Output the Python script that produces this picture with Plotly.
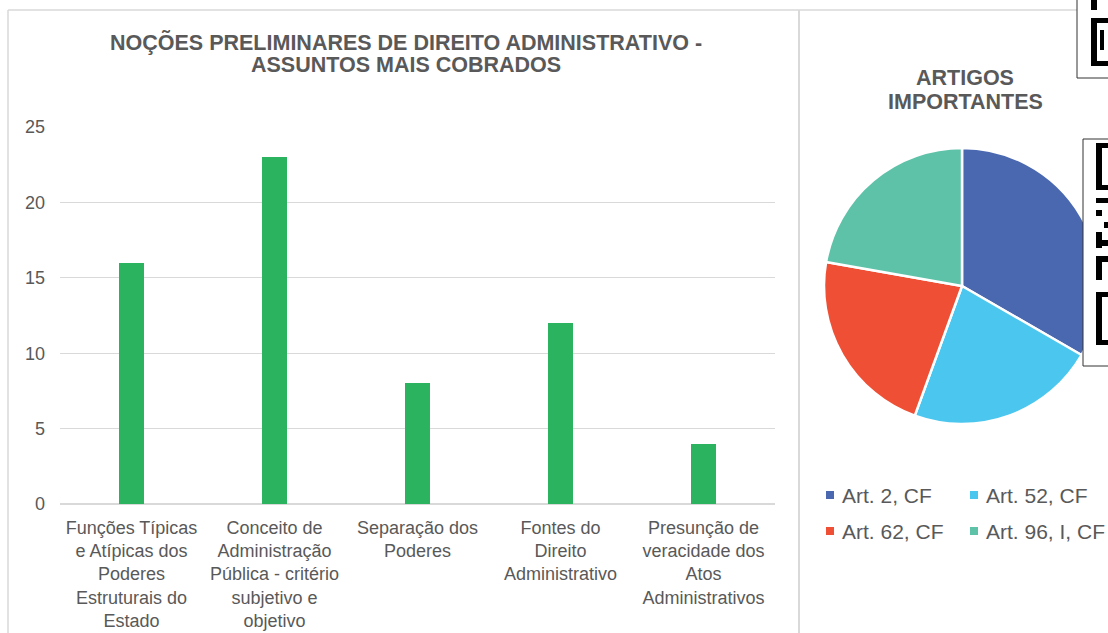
import plotly.graph_objects as go

# ---- data ----
categories = [
    "Funções Típicas<br>e Atípicas dos<br>Poderes<br>Estruturais do<br>Estado",
    "Conceito de<br>Administração<br>Pública - critério<br>subjetivo e<br>objetivo",
    "Separação dos<br>Poderes",
    "Fontes do<br>Direito<br>Administrativo",
    "Presunção de<br>veracidade dos<br>Atos<br>Administrativos",
]
bar_values = [16, 23, 8, 12, 4]
pie_labels = ["Art. 2, CF", "Art. 52, CF", "Art. 62, CF", "Art. 96, I, CF"]
pie_values = [3, 2, 2, 2]
pie_colors = ["#4A68B0", "#4BC6EE", "#EF5035", "#5EC2A9"]
y_ticks = [0, 5, 10, 15, 20, 25]
bar_title = ["NOÇÕES PRELIMINARES DE DIREITO ADMINISTRATIVO -", "ASSUNTOS MAIS COBRADOS"]
pie_title = ["ARTIGOS", "IMPORTANTES"]

W, H = 1108, 633
def px(x):
    return x / W
def py(y):
    return 1 - y / H

TXT = "#595959"
FONT = "Liberation Sans, Arial, sans-serif"

fig = go.Figure()
fig.add_trace(go.Bar(
    x=list(range(len(categories))), y=bar_values,
    marker=dict(color="#2BB35F", line=dict(width=0)),
    width=0.175, xaxis="x", yaxis="y", showlegend=False,
    hoverinfo="y",
))
fig.add_trace(go.Pie(
    labels=pie_labels, values=pie_values, sort=False, direction="clockwise",
    rotation=0, marker=dict(colors=pie_colors, line=dict(color="white", width=2.5)),
    textinfo="none", showlegend=False,
    domain=dict(x=[px(824), px(1100)], y=[py(424), py(148)]),
))

shapes = []
# panel borders
shapes.append(dict(type="line", xref="paper", yref="paper", x0=px(8), x1=px(8), y0=py(10), y1=py(640),
                   line=dict(color="#D9D9D9", width=1.5)))
shapes.append(dict(type="line", xref="paper", yref="paper", x0=px(8), x1=px(1080), y0=py(10), y1=py(10),
                   line=dict(color="#D9D9D9", width=1.5)))
shapes.append(dict(type="line", xref="paper", yref="paper", x0=px(799), x1=px(799), y0=py(10), y1=py(640),
                   line=dict(color="#D9D9D9", width=2)))

# QR-like boxes at right edge
def rect(x0, y0, x1, y1, fill="black", line=None):
    d = dict(type="rect", xref="paper", yref="paper", x0=px(x0), x1=px(x1), y0=py(y1), y1=py(y0),
             fillcolor=fill, line=dict(width=0) if line is None else line, layer="above")
    shapes.append(d)

rect(1077, -5, 1115, 78, fill="white", line=dict(color="#333333", width=1))
rect(1091, 0, 1097, 10)
rect(1091, 18, 1115, 23)
rect(1091, 18, 1097, 66)
rect(1091, 61, 1115, 66)
rect(1100, 30, 1104, 50)

rect(1083, 139, 1115, 366, fill="white", line=dict(color="#333333", width=1))
rect(1096, 143, 1115, 148)
rect(1096, 143, 1102, 190)
rect(1096, 185, 1115, 190)
rect(1096, 198, 1108, 203)
rect(1096, 210, 1102, 216)
rect(1104, 222, 1115, 228)
rect(1096, 232, 1102, 248)
rect(1102, 240, 1108, 246)
rect(1096, 256, 1115, 262)
rect(1096, 256, 1102, 280)
rect(1096, 292, 1115, 297)
rect(1096, 292, 1102, 345)
rect(1096, 340, 1115, 345)

annotations = []
for line_txt, ly in zip(bar_title, [42, 65]):
    annotations.append(dict(
        text="<b>" + line_txt + "</b>", xref="paper", yref="paper", x=px(406), y=py(ly),
        xanchor="center", yanchor="middle", showarrow=False,
        font=dict(family=FONT, size=21.5, color=TXT)))
for line_txt, ly in zip(pie_title, [78, 102]):
    annotations.append(dict(
        text="<b>" + line_txt + "</b>", xref="paper", yref="paper", x=px(965), y=py(ly),
        xanchor="center", yanchor="middle", showarrow=False,
        font=dict(family=FONT, size=21.5, color=TXT)))

# legend (custom, 2 columns)
leg_pos = [(830, 495), (974, 495), (830, 531), (974, 531)]
for lab, col, (lx, ly) in zip(pie_labels, pie_colors, leg_pos):
    shapes.append(dict(type="rect", xref="paper", yref="paper", x0=px(lx - 4), x1=px(lx + 4),
                       y0=py(ly + 4), y1=py(ly - 4), fillcolor=col, line=dict(width=0)))
    annotations.append(dict(text=lab, xref="paper", yref="paper", x=px(lx + 10), y=py(ly),
                            xanchor="left", yanchor="middle", showarrow=False,
                            font=dict(family=FONT, size=21, color=TXT)))

fig.update_layout(
    width=W, height=H, autosize=False, margin=dict(l=0, r=0, t=0, b=0, pad=0),
    paper_bgcolor="white", plot_bgcolor="white",
    xaxis=dict(domain=[px(60), px(775)], range=[-0.5, 4.5], tickmode="array",
               tickvals=list(range(len(categories))), ticktext=categories,
               tickfont=dict(family=FONT, size=18, color=TXT), showgrid=False,
               showline=True, linecolor="#D9D9D9", linewidth=1, ticks="", tickangle=0,
               ticklabelstandoff=7, automargin=False, fixedrange=True),
    yaxis=dict(domain=[py(504), py(127)], range=[0, 25], tickmode="array", tickvals=y_ticks,
               tickfont=dict(family=FONT, size=18, color=TXT), showgrid=True,
               gridcolor="#D9D9D9", gridwidth=1, zeroline=True, zerolinecolor="#D9D9D9",
               showline=False, ticks="", ticklabelstandoff=14, automargin=False, fixedrange=True),
    shapes=shapes, annotations=annotations, bargap=0,
)

fig.write_html(
    "out.html",
    config={"displayModeBar": False},
    post_script="document.body.style.margin='0';document.body.style.overflow='hidden';",
)
